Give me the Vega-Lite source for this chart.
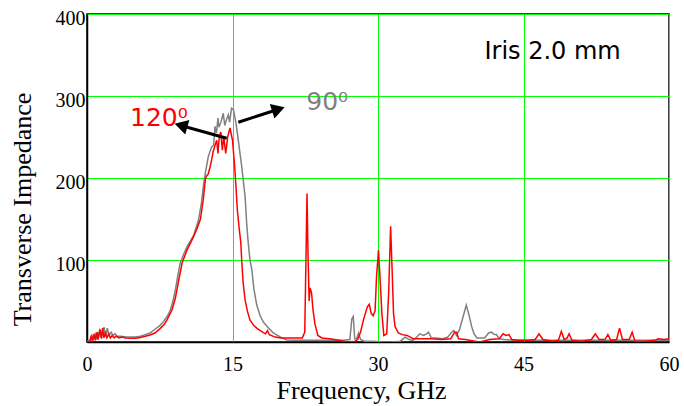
{
  "$schema": "https://vega.github.io/schema/vega-lite/v6.json",
  "width": 582,
  "height": 328,
  "autosize": {"type": "none"},
  "padding": {"left": 87, "top": 14, "right": 15, "bottom": 64},
  "background": "white",
  "config": {
    "view": {"stroke": "black", "strokeWidth": 1.5},
    "font": "Liberation Serif"
  },
  "datasets": {
    "red": [
      {"f":0.0,"z":0.5},{"f":0.3,"z":1},{"f":0.45,"z":8},{"f":0.55,"z":1},{"f":0.75,"z":10},{"f":0.85,"z":2},
      {"f":1.05,"z":12},{"f":1.15,"z":3},{"f":1.35,"z":15},{"f":1.5,"z":4},{"f":1.6,"z":17},{"f":1.75,"z":5},
      {"f":1.9,"z":11},{"f":2.05,"z":5},{"f":2.25,"z":10},{"f":2.4,"z":5},{"f":2.6,"z":8},{"f":2.8,"z":5},
      {"f":3.0,"z":7},{"f":3.3,"z":5},{"f":3.6,"z":6},{"f":4.0,"z":5},{"f":4.5,"z":4.5},{"f":5.0,"z":4.5},
      {"f":5.5,"z":5.5},{"f":6.0,"z":7},{"f":6.5,"z":8.5},{"f":7.0,"z":11},{"f":7.5,"z":16},{"f":8.0,"z":22},
      {"f":8.25,"z":27},{"f":8.5,"z":33},{"f":8.76,"z":39},{"f":9.1,"z":53},{"f":9.45,"z":75},{"f":9.8,"z":96},
      {"f":10.3,"z":112},{"f":10.8,"z":124},{"f":11.3,"z":137},{"f":11.7,"z":150},{"f":12.0,"z":175},{"f":12.2,"z":198},
      {"f":12.3,"z":202},{"f":12.5,"z":205},{"f":12.7,"z":214},{"f":12.85,"z":222},{"f":13.0,"z":232},{"f":13.2,"z":240},
      {"f":13.37,"z":246},{"f":13.5,"z":230},{"f":13.65,"z":252},{"f":13.8,"z":256},{"f":13.95,"z":234},{"f":14.1,"z":250},
      {"f":14.3,"z":230},{"f":14.5,"z":250},{"f":14.74,"z":261},{"f":15.0,"z":246},{"f":15.2,"z":218},{"f":15.36,"z":189},
      {"f":15.5,"z":161},{"f":15.7,"z":137},{"f":15.85,"z":122},{"f":15.95,"z":100},{"f":16.1,"z":72},{"f":16.3,"z":51},
      {"f":16.55,"z":37},{"f":16.8,"z":27},{"f":17.2,"z":20},{"f":17.6,"z":16},{"f":18.1,"z":12},{"f":18.4,"z":10},
      {"f":18.6,"z":14},{"f":18.8,"z":9},{"f":19.4,"z":6},{"f":20.0,"z":5},{"f":21.0,"z":5},{"f":21.6,"z":5},
      {"f":22.2,"z":5},{"f":22.45,"z":12},{"f":22.6,"z":120},{"f":22.68,"z":181},{"f":22.78,"z":110},{"f":22.9,"z":50},
      {"f":23.0,"z":66},{"f":23.15,"z":60},{"f":23.3,"z":39},{"f":23.5,"z":22},{"f":23.8,"z":8},{"f":24.2,"z":5},
      {"f":25.0,"z":4},{"f":26.0,"z":2},{"f":26.8,"z":0},{"f":27.5,"z":0},{"f":27.9,"z":3},{"f":28.2,"z":12},
      {"f":28.5,"z":27},{"f":28.9,"z":43},{"f":29.1,"z":46},{"f":29.3,"z":35},{"f":29.5,"z":32},{"f":29.7,"z":38},
      {"f":29.85,"z":80},{"f":30.05,"z":112},{"f":30.2,"z":80},{"f":30.4,"z":35},{"f":30.6,"z":8},{"f":30.9,"z":10},
      {"f":31.1,"z":60},{"f":31.3,"z":141},{"f":31.45,"z":90},{"f":31.6,"z":35},{"f":31.75,"z":19},{"f":32.1,"z":11},
      {"f":32.5,"z":9},{"f":33.0,"z":8},{"f":33.6,"z":4},{"f":34.5,"z":4},{"f":35.5,"z":4},{"f":36.5,"z":3},
      {"f":37.5,"z":4},{"f":37.9,"z":12},{"f":38.1,"z":12},{"f":38.3,"z":4},{"f":39.0,"z":3},{"f":40.0,"z":1},
      {"f":40.5,"z":0},{"f":41.5,"z":3},{"f":42.5,"z":4},{"f":42.9,"z":10},{"f":43.2,"z":8},{"f":43.5,"z":9},
      {"f":43.8,"z":3},{"f":44.5,"z":2},{"f":45.5,"z":2},{"f":46.2,"z":3},{"f":46.6,"z":10},{"f":47.0,"z":3},
      {"f":48.0,"z":1},{"f":48.6,"z":2},{"f":48.9,"z":13},{"f":49.2,"z":3},{"f":49.5,"z":5},{"f":49.7,"z":10},
      {"f":50.0,"z":2},{"f":51.0,"z":1},{"f":52.0,"z":3},{"f":52.4,"z":10},{"f":52.8,"z":3},{"f":53.4,"z":3},
      {"f":53.7,"z":9},{"f":54.0,"z":2},{"f":54.6,"z":3},{"f":54.9,"z":17},{"f":55.2,"z":3},{"f":55.9,"z":3},
      {"f":56.2,"z":12},{"f":56.5,"z":1},{"f":57.5,"z":1},{"f":58.5,"z":2},{"f":58.9,"z":4},{"f":59.5,"z":3},{"f":60.0,"z":4}
    ],
    "grey": [
      {"f":0.0,"z":1},{"f":0.3,"z":2},{"f":0.5,"z":8},{"f":0.6,"z":2},{"f":0.9,"z":10},{"f":1.0,"z":3},
      {"f":1.3,"z":14},{"f":1.45,"z":5},{"f":1.75,"z":18},{"f":1.9,"z":7},{"f":2.1,"z":17},{"f":2.25,"z":8},
      {"f":2.5,"z":12},{"f":2.65,"z":8},{"f":2.9,"z":10},{"f":3.1,"z":7},{"f":3.5,"z":7},{"f":4.0,"z":6},
      {"f":4.5,"z":6},{"f":5.0,"z":6},{"f":5.5,"z":7},{"f":6.0,"z":9},{"f":6.5,"z":11},{"f":6.9,"z":14.6},
      {"f":7.5,"z":20},{"f":7.9,"z":25},{"f":8.3,"z":32},{"f":8.6,"z":39},{"f":8.9,"z":52},{"f":9.1,"z":63},
      {"f":9.35,"z":80},{"f":9.6,"z":96},{"f":10.0,"z":108},{"f":10.3,"z":116},{"f":10.6,"z":122},{"f":11.0,"z":130},
      {"f":11.5,"z":149},{"f":11.8,"z":170},{"f":12.0,"z":190},{"f":12.2,"z":206},{"f":12.5,"z":226},{"f":12.85,"z":238},
      {"f":13.05,"z":240},{"f":13.2,"z":263},{"f":13.35,"z":255},{"f":13.5,"z":273},{"f":13.6,"z":262},{"f":13.8,"z":268},
      {"f":14.05,"z":279},{"f":14.2,"z":264},{"f":14.4,"z":272},{"f":14.57,"z":277},{"f":14.7,"z":268},{"f":14.9,"z":285},
      {"f":15.1,"z":283},{"f":15.36,"z":267},{"f":15.6,"z":246},{"f":15.95,"z":214},{"f":16.3,"z":177},{"f":16.46,"z":145},
      {"f":16.6,"z":124},{"f":16.8,"z":100},{"f":17.0,"z":88},{"f":17.2,"z":65},{"f":17.5,"z":45},{"f":17.85,"z":32},
      {"f":18.2,"z":24},{"f":18.8,"z":16},{"f":19.2,"z":11},{"f":19.6,"z":8.5},{"f":20.1,"z":5},{"f":20.6,"z":2.5},
      {"f":21.5,"z":2},{"f":22.5,"z":2},{"f":23.5,"z":2},{"f":24.5,"z":2},{"f":25.5,"z":2},{"f":26.5,"z":2},
      {"f":27.1,"z":3},{"f":27.3,"z":28},{"f":27.45,"z":31},{"f":27.6,"z":4},{"f":27.8,"z":4},{"f":28.0,"z":11},
      {"f":28.2,"z":3},{"f":28.6,"z":1},{"f":29.5,"z":1},{"f":30.5,"z":0},{"f":31.5,"z":0},{"f":32.3,"z":1},
      {"f":32.8,"z":6},{"f":33.2,"z":3},{"f":33.6,"z":2},{"f":34.0,"z":6},{"f":34.3,"z":10},{"f":34.7,"z":8},
      {"f":35.0,"z":10},{"f":35.2,"z":12},{"f":35.5,"z":5},{"f":36.0,"z":5},{"f":36.7,"z":4},{"f":37.2,"z":6},
      {"f":37.6,"z":12},{"f":37.8,"z":14},{"f":38.1,"z":8},{"f":38.4,"z":15},{"f":38.8,"z":32},{"f":39.1,"z":45},
      {"f":39.4,"z":32},{"f":39.65,"z":19},{"f":39.9,"z":10},{"f":40.2,"z":5},{"f":41.0,"z":5},{"f":41.4,"z":11},
      {"f":41.7,"z":12},{"f":42.0,"z":9},{"f":42.2,"z":9},{"f":42.5,"z":4},{"f":43.0,"z":3},{"f":44.0,"z":2},
      {"f":45.0,"z":2},{"f":46.0,"z":2},{"f":47.0,"z":2},{"f":48.0,"z":2},{"f":49.0,"z":2},{"f":50.0,"z":2},
      {"f":52.0,"z":2},{"f":54.0,"z":2},{"f":56.0,"z":2},{"f":58.0,"z":2},{"f":60.0,"z":2}
    ],
    "shafts": [
      {"f":14.4,"z":248.4,"f2":9.69,"z2":264},
      {"f":15.6,"z":268,"f2":19.73,"z2":283.9}
    ],
    "heads": [
      {"f":9.69,"z":264,"ang":285.7},
      {"f":19.73,"z":283.9,"ang":71.9}
    ]
  },
  "layer": [
    {
      "data": {"name": "grey"},
      "mark": {"type": "line", "color": "#808080", "strokeWidth": 1.5, "clip": true},
      "encoding": {
        "x": {
          "field": "f", "type": "quantitative",
          "scale": {"domain": [0, 60], "nice": false, "zero": false},
          "axis": {
            "title": "Frequency, GHz",
            "values": [0, 15, 30, 45, 60],
            "grid": true, "gridColor": "#00ff00", "gridWidth": 1, "gridOpacity": 1,
            "ticks": false, "tickSize": 0,
            "labelFont": "Liberation Serif", "labelFontSize": 20, "labelColor": "black",
            "labelPadding": 12, "labelFlush": false,
            "domainColor": "black", "domainWidth": 1.5,
            "titleFont": "Liberation Serif", "titleFontSize": 26, "titleFontWeight": "normal",
            "titleColor": "black", "titleX": 274, "titleY": 56, "titleBaseline": "alphabetic", "titleAlign": "center"
          }
        },
        "y": {
          "field": "z", "type": "quantitative",
          "scale": {"domain": [0, 400], "nice": false},
          "axis": {
            "title": "Transverse Impedance",
            "values": [100, 200, 300, 400],
            "grid": true, "gridColor": "#00ff00", "gridWidth": 1, "gridOpacity": 1,
            "ticks": false, "tickSize": 0,
            "labelFont": "Liberation Serif", "labelFontSize": 20, "labelColor": "black",
            "labelPadding": 2, "labelOffset": 4,
            "domainColor": "black", "domainWidth": 1.5,
            "titleFont": "Liberation Serif", "titleFontSize": 26, "titleFontWeight": "normal",
            "titleColor": "black", "titleX": -52, "titleY": 195, "titleAngle": -90,
            "titleBaseline": "bottom", "titleAlign": "center"
          }
        }
      }
    },
    {
      "data": {"name": "red"},
      "mark": {"type": "line", "color": "#ff0000", "strokeWidth": 1.5, "clip": true},
      "encoding": {
        "x": {"field": "f", "type": "quantitative", "title": "Frequency, GHz"},
        "y": {"field": "z", "type": "quantitative", "title": "Transverse Impedance"}
      }
    },
    {
      "data": {"name": "shafts"},
      "mark": {"type": "rule", "color": "black", "strokeWidth": 3},
      "encoding": {
        "x": {"field": "f", "type": "quantitative", "title": "Frequency, GHz"},
        "y": {"field": "z", "type": "quantitative", "title": "Transverse Impedance"},
        "x2": {"field": "f2"},
        "y2": {"field": "z2"}
      }
    },
    {
      "data": {"name": "heads"},
      "mark": {"type": "point", "shape": "triangle-up", "filled": true, "color": "black", "size": 230, "opacity": 1},
      "encoding": {
        "x": {"field": "f", "type": "quantitative", "title": "Frequency, GHz"},
        "y": {"field": "z", "type": "quantitative", "title": "Transverse Impedance"},
        "angle": {"field": "ang", "type": "quantitative", "scale": null}
      }
    },
    {
      "data": {"values": [{"f": 48, "z": 354, "label": "Iris 2.0 mm"}]},
      "mark": {"type": "text", "font": "DejaVu Sans", "fontSize": 24, "color": "black", "align": "center", "baseline": "middle"},
      "encoding": {
        "x": {"field": "f", "type": "quantitative", "title": "Frequency, GHz"},
        "y": {"field": "z", "type": "quantitative", "title": "Transverse Impedance"},
        "text": {"field": "label"}
      }
    },
    {
      "data": {"values": [{"f": 4.43, "z": 263, "label": "120⁰"}]},
      "mark": {"type": "text", "font": "DejaVu Sans", "fontSize": 25, "color": "#ff0000", "align": "left", "baseline": "alphabetic"},
      "encoding": {
        "x": {"field": "f", "type": "quantitative", "title": "Frequency, GHz"},
        "y": {"field": "z", "type": "quantitative", "title": "Transverse Impedance"},
        "text": {"field": "label"}
      }
    },
    {
      "data": {"values": [{"f": 22.6, "z": 283, "label": "90⁰"}]},
      "mark": {"type": "text", "font": "DejaVu Sans", "fontSize": 25, "color": "#808080", "align": "left", "baseline": "alphabetic"},
      "encoding": {
        "x": {"field": "f", "type": "quantitative", "title": "Frequency, GHz"},
        "y": {"field": "z", "type": "quantitative", "title": "Transverse Impedance"},
        "text": {"field": "label"}
      }
    }
  ]
}
